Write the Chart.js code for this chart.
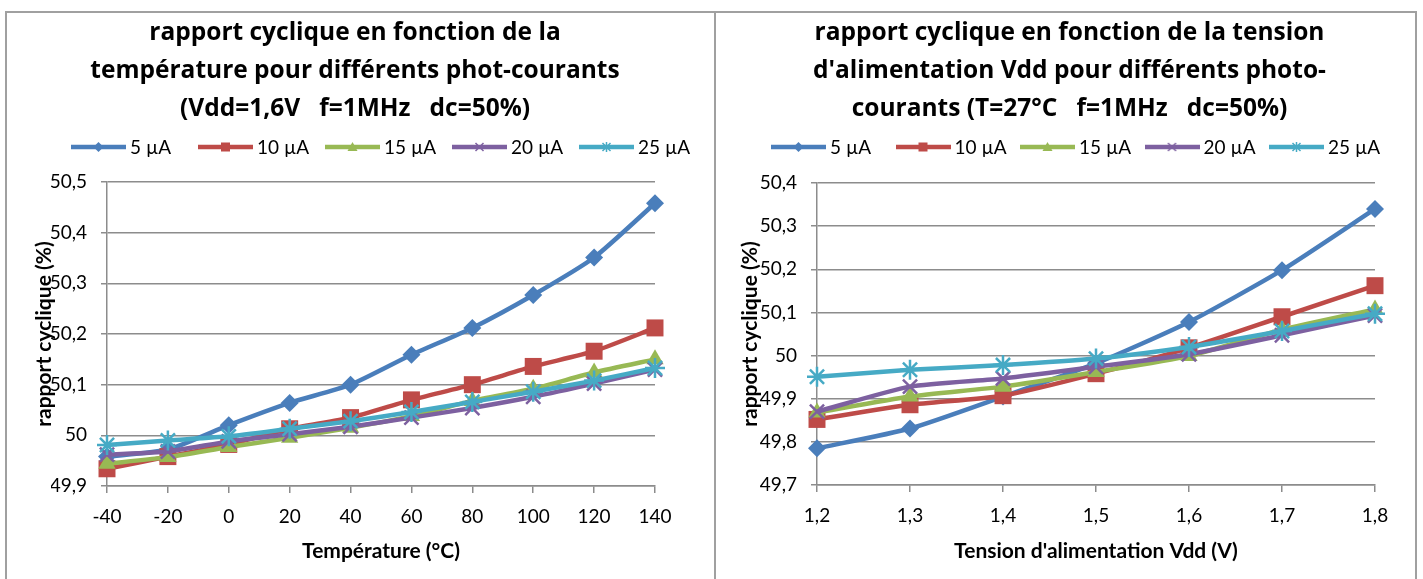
<!DOCTYPE html>
<html lang="fr">
<head>
    <meta charset="UTF-8">
    <title>Rapport cyclique</title>
    <script src="https://cdn.jsdelivr.net/npm/chart.js"></script>
    <style>
        body {
            margin: 0;
            width: 1423px;
            height: 579px;
            overflow: hidden;
            background: #ffffff;
            position: relative;
        }
        .panel {
            position: absolute;
            top: 11px;
            height: 580px;
            box-sizing: border-box;
            border: 2px solid #a0a0a0;
            border-bottom: none;
        }
        #panelLeft { left: 5px; width: 711px; }
        #panelRight { left: 716px; width: 701px; border-left: none; }
        canvas { position: absolute; }
        #chartTemp { left: 7px; top: 14px; }
        #chartVdd { left: 716px; top: 14px; }
    </style>
</head>
<body>
    <div class="panel" id="panelLeft"></div>
    <div class="panel" id="panelRight"></div>
    <canvas id="chartTemp" width="706" height="565"></canvas>
    <canvas id="chartVdd" width="699" height="565"></canvas>

    <script>
        // series names
        const seriesNames = ['5 µA', '10 µA', '15 µA', '20 µA', '25 µA'];

        // left chart: duty cycle vs temperature (Vdd=1,6V)
        const tempLabels = ['-40', '-20', '0', '20', '40', '60', '80', '100', '120', '140'];
        const temp5uA  = [49.958, 49.972, 50.020, 50.064, 50.100, 50.159, 50.212, 50.277, 50.351, 50.458];
        const temp10uA = [49.934, 49.958, 49.982, 50.013, 50.035, 50.070, 50.100, 50.136, 50.166, 50.212];
        const temp15uA = [49.944, 49.957, 49.977, 49.995, 50.015, 50.038, 50.068, 50.092, 50.124, 50.150];
        const temp20uA = [49.962, 49.968, 49.988, 50.002, 50.017, 50.035, 50.054, 50.076, 50.102, 50.130];
        const temp25uA = [49.981, 49.990, 49.998, 50.013, 50.028, 50.046, 50.066, 50.086, 50.108, 50.133];

        // right chart: duty cycle vs supply voltage (T=27°C)
        const vddLabels = ['1,2', '1,3', '1,4', '1,5', '1,6', '1,7', '1,8'];
        const vdd5uA  = [49.785, 49.831, 49.905, 49.982, 50.078, 50.198, 50.340];
        const vdd10uA = [49.852, 49.886, 49.907, 49.958, 50.018, 50.090, 50.162];
        const vdd15uA = [49.868, 49.905, 49.928, 49.962, 49.999, 50.060, 50.107];
        const vdd20uA = [49.870, 49.928, 49.947, 49.974, 50.003, 50.047, 50.093];
        const vdd25uA = [49.951, 49.967, 49.978, 49.993, 50.020, 50.057, 50.097];

        // y ticks
        const tempTicks = { min: 49.9, max: 50.5, step: 0.1 };
        const vddTicks  = { min: 49.7, max: 50.4, step: 0.1 };

        const colors  = ['#4a7ebb', '#be4b48', '#98b954', '#7d60a0', '#46aac5'];
        const markers = ['rectRot', 'rect', 'triangle', 'crossRot', 'star'];
        const radii   = [9, 12, 10, 10, 10];

        const FONT = 'Lato, "Open Sans", sans-serif';
        const TITLE_FONT = '"Open Sans", Lato, sans-serif';
        const TITLE_SIZE = 24.5;
        const TITLE_LH = 1.55;

        // small line + marker picture used in the legend
        function legendIcon(color, style) {
            const c = document.createElement('canvas');
            c.width = 55;
            c.height = 14;
            const g = c.getContext('2d');
            g.strokeStyle = color;
            g.fillStyle = color;
            g.lineWidth = 4.5;
            g.beginPath();
            g.moveTo(0, 7);
            g.lineTo(55, 7);
            g.stroke();
            g.lineWidth = 1.5;
            g.beginPath();
            const x = 27.5, y = 7, r = 5;
            if (style === 'rectRot') {
                g.moveTo(x, y - r); g.lineTo(x + r, y); g.lineTo(x, y + r); g.lineTo(x - r, y); g.closePath(); g.fill();
            } else if (style === 'rect') {
                g.fillRect(x - 4.5, y - 4.5, 9, 9);
            } else if (style === 'triangle') {
                g.moveTo(x, y - r); g.lineTo(x + r, y + 4); g.lineTo(x - r, y + 4); g.closePath(); g.fill();
            } else if (style === 'crossRot') {
                g.moveTo(x - 4, y - 4); g.lineTo(x + 4, y + 4);
                g.moveTo(x + 4, y - 4); g.lineTo(x - 4, y + 4); g.stroke();
            } else {
                g.moveTo(x - 4, y - 4); g.lineTo(x + 4, y + 4);
                g.moveTo(x + 4, y - 4); g.lineTo(x - 4, y + 4);
                g.moveTo(x, y - 5); g.lineTo(x, y + 5); g.stroke();
            }
            return c;
        }
        const icons = colors.map((c, i) => legendIcon(c, markers[i]));

        // Excel-like legend: line sample + marker, equal slots
        const lineLegend = {
            id: 'lineLegend',
            afterDraw(chart, args, opts) {
                const ctx = chart.ctx;
                ctx.save();
                ctx.font = opts.size + 'px ' + FONT;
                ctx.textBaseline = 'middle';
                ctx.textAlign = 'left';
                ctx.fillStyle = '#000';
                seriesNames.forEach((name, i) => {
                    const x = opts.x + i * opts.slot;
                    ctx.drawImage(icons[i], x, opts.y - 7);
                    ctx.fillText(name, x + icons[i].width + 4, opts.y + 1);
                });
                ctx.restore();
            }
        };

        function fmt(v) {
            return v.toFixed(1).replace('.', ',').replace(/,0$/, '');
        }

        function makeDatasets(series) {
            return series.map((data, i) => ({
                label: seriesNames[i],
                data: data,
                borderColor: colors[i],
                backgroundColor: colors[i],
                borderWidth: 4.5,
                tension: 0.2,
                pointStyle: markers[i],
                pointRadius: radii[i],
                pointHoverRadius: radii[i],
                pointBorderWidth: (markers[i] === 'crossRot' || markers[i] === 'star') ? 2.5 : 0,
                order: series.length - i,   // last series on top, like Excel
                clip: false
            }));
        }

        function makeChart(id, cfg) {
            const ctx = document.getElementById(id).getContext('2d');
            return new Chart(ctx, {
                type: 'line',
                data: { labels: cfg.labels, datasets: makeDatasets(cfg.series) },
                plugins: [lineLegend],
                options: {
                    responsive: false,
                    animation: false,
                    devicePixelRatio: 1,
                    layout: { padding: { left: cfg.padLeft, right: cfg.padRight, top: 0, bottom: 11 } },
                    plugins: {
                        tooltip: { enabled: false },
                        legend: { display: false },
                        lineLegend: { x: cfg.legendX, y: 133, slot: cfg.legendSlot, size: 19 },
                        title: {
                            display: true,
                            text: cfg.title,
                            color: '#000',
                            font: { family: TITLE_FONT, size: TITLE_SIZE, weight: 'bold', lineHeight: TITLE_LH },
                            // title box height sets the top of the plot area
                            padding: { top: 0, bottom: cfg.areaTop - 3 * TITLE_SIZE * TITLE_LH }
                        }
                    },
                    scales: {
                        x: {
                            type: 'category',
                            offset: false,
                            grid: { drawOnChartArea: false, drawTicks: true, tickLength: 7, color: '#8c8c8c', lineWidth: 1.5 },
                            border: { display: true, color: '#8c8c8c', width: 1.5 },
                            ticks: { color: '#000', font: { family: FONT, size: 19 }, padding: 12, maxRotation: 0, autoSkip: false },
                            title: {
                                display: true,
                                text: cfg.xTitle,
                                color: '#000',
                                font: { family: FONT, size: 21, weight: 'bold' },
                                padding: { top: 4, bottom: 4 }
                            },
                            afterFit: (scale) => {
                                scale.height = cfg.xHeight;
                                scale.paddingRight = cfg.areaRight;
                            }
                        },
                        y: {
                            min: cfg.ticks.min,
                            max: cfg.ticks.max,
                            grid: { color: '#8c8c8c', lineWidth: 1.5, tickLength: 6 },
                            border: { display: true, color: '#8c8c8c', width: 1.5 },
                            ticks: {
                                stepSize: cfg.ticks.step,
                                color: '#000',
                                font: { family: FONT, size: 19 },
                                padding: 14,
                                callback: (v) => fmt(v)
                            },
                            title: {
                                display: true,
                                text: 'rapport cyclique (%)',
                                color: '#000',
                                font: { family: FONT, size: 21, weight: 'bold' },
                                padding: { top: cfg.yTitlePad, bottom: 4 }
                            },
                            afterFit: (scale) => {
                                scale.width = cfg.yWidth;
                            }
                        }
                    }
                }
            });
        }

        makeChart('chartTemp', {
            labels: tempLabels,
            series: [temp5uA, temp10uA, temp15uA, temp20uA, temp25uA],
            ticks: tempTicks,
            title: ['rapport cyclique en fonction de la',
                    'température pour différents phot-courants',
                    '(Vdd=1,6V   f=1MHz   dc=50%)'],
            xTitle: 'Température (°C)',
            padLeft: 44,
            padRight: 54,
            areaRight: 58,
            areaTop: 168,
            yWidth: 56,
            yTitlePad: -19,
            xHeight: 82,
            legendX: 64,
            legendSlot: 127
        });

        makeChart('chartVdd', {
            labels: vddLabels,
            series: [vdd5uA, vdd10uA, vdd15uA, vdd20uA, vdd25uA],
            ticks: vddTicks,
            title: ['rapport cyclique en fonction de la tension',
                    "d'alimentation Vdd pour différents photo-",
                    'courants (T=27°C   f=1MHz   dc=50%)'],
            xTitle: "Tension d'alimentation Vdd (V)",
            padLeft: 37,
            padRight: 29,
            areaRight: 40,
            areaTop: 169,
            yWidth: 64,
            yTitlePad: -15,
            xHeight: 83,
            legendX: 55,
            legendSlot: 124.5
        });
    </script>
</body>
</html>
